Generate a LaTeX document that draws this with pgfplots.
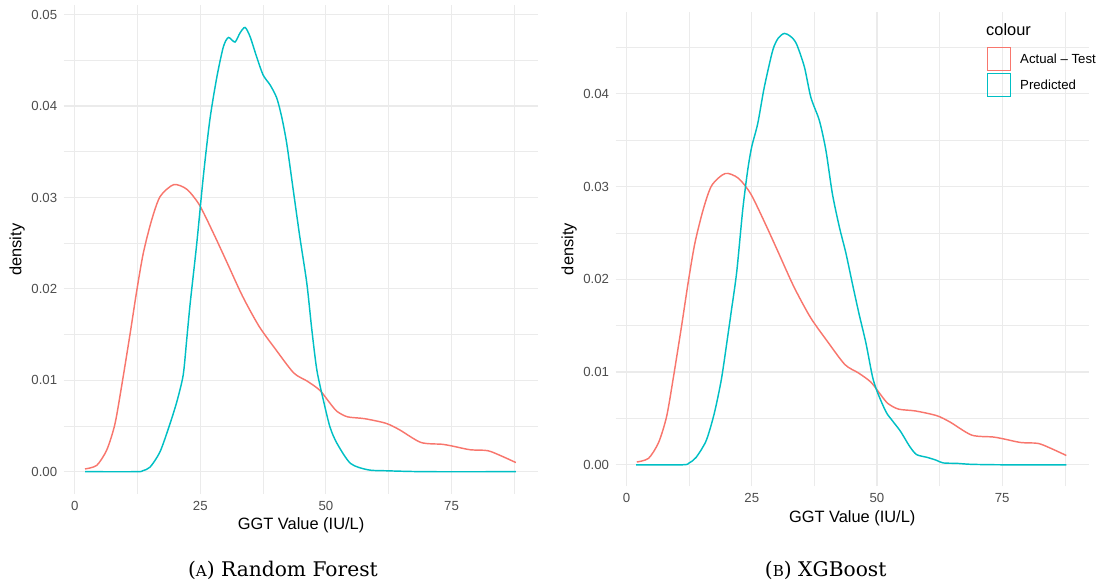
\documentclass[border=0pt]{standalone}
\usepackage{fontspec}
\usepackage{pgfplots}
\pgfplotsset{compat=1.18}
\newfontfamily\lsans{Liberation Sans}
\newfontfamily\capserif{DejaVu Serif}
\definecolor{actcol}{HTML}{F8766D}
\definecolor{predcol}{HTML}{00BFC4}
\definecolor{gridcol}{HTML}{EBEBEB}
\definecolor{tickcol}{HTML}{4D4D4D}

% shared look of the two density panels (ggplot theme_minimal)
\pgfplotsset{
  ggdens/.style={
    scale only axis, anchor=south west,
    axis line style={draw=none}, tick style={draw=none},
    grid=both,
    major grid style={gridcol, line width=1.1pt},
    minor grid style={gridcol, line width=0.6pt},
    xmin=-2.2, xmax=92.3,
    xtick={0,25,50,75}, minor xtick={12.5,37.5,62.5,87.5},
    /pgf/number format/assume math mode=true,
    scaled y ticks=false,
    ticklabel style={font=\lsans\fontsize{13.2}{15}\selectfont, text=tickcol},
    yticklabel style={/pgf/number format/fixed, /pgf/number format/fixed zerofill,
      /pgf/number format/precision=2},
    xticklabel style={yshift=-3.5pt},
    yticklabel style={xshift=-3pt},
    label style={font=\lsans\fontsize{16.4}{19}\selectfont, text=black},
    xlabel={GGT Value (IU/L)}, ylabel={density},
    xlabel style={at={(axis description cs:0.5,0)}, anchor=base, yshift=-35.6pt},
    ylabel style={at={(axis description cs:-0.098,0.5)}, anchor=center},
    every axis plot/.append style={line width=1.45pt, smooth, tension=0.45},
  }
}

% observed GGT density (same test set in both panels)
\pgfplotstableread{
x y
2.05 0.0003
4.4 0.0007
6.4 0.0024
8.0 0.0052
9.35 0.0094
11.0 0.0150
12.35 0.0198
13.65 0.0239
15.3 0.0275
17.0 0.0301
19.7 0.0314
22.3 0.0309
24.8 0.0292
27.6 0.0261
30.3 0.0229
33.4 0.0192
36.7 0.0159
40.1 0.0133
43.6 0.0108
46.3 0.0099
48.8 0.0089
50.8 0.0075
52.2 0.0066
54.3 0.0060
57.7 0.0058
61.9 0.0053
64.6 0.0046
68.9 0.0032
73.1 0.0030
75.2 0.0028
78.7 0.0024
82.2 0.0023
85.0 0.0017
87.8 0.0010
}\actual

\pgfplotstableread{
x y
2.05 0
12.3 0
13.5 0.0001
15.0 0.0005
17.0 0.0022
19.0 0.0053
20.4 0.0078
21.6 0.0106
22.3 0.0145
23.0 0.0185
24.3 0.0250
25.6 0.0323
26.9 0.0385
28.3 0.0432
29.6 0.0465
30.6 0.0475
31.9 0.0470
32.9 0.0480
33.9 0.0486
34.9 0.0476
36.2 0.0454
37.5 0.0434
38.9 0.0423
40.2 0.0409
41.2 0.0388
42.2 0.0359
43.5 0.0308
44.8 0.0257
46.2 0.0206
47.2 0.0155
48.2 0.0111
49.5 0.0078
50.8 0.0049
52.2 0.0031
54.9 0.0009
58.4 0.0002
62.0 0.0001
70.0 0
87.8 0
}\predrf

\pgfplotstableread{
x y
1.9 0
11.2 0
12.5 0.0002
13.9 0.0008
15.9 0.0026
17.5 0.0055
18.9 0.0091
19.9 0.0127
20.9 0.0165
22.0 0.0208
23.2 0.0275
24.2 0.0318
25.0 0.0343
26.2 0.0368
27.5 0.0407
29.2 0.0447
30.3 0.0460
31.5 0.0465
32.7 0.0462
33.9 0.0454
35.5 0.0429
36.8 0.0396
38.5 0.0371
39.8 0.0339
41.1 0.0292
42.5 0.0256
43.8 0.0228
45.1 0.0195
46.4 0.0163
47.8 0.0131
49.1 0.0095
50.1 0.0078
51.8 0.0057
53.0 0.0048
54.7 0.0036
56.5 0.0020
57.9 0.0011
60.0 0.0008
61.8 0.0005
63.2 0.0002
66.0 0.00015
68.8 0.00005
75.0 0
87.8 0
}\predxgb

\begin{document}
\begin{tikzpicture}
\path[use as bounding box] (0,0) rectangle (1101pt,-585pt);

% (A) Random Forest
\begin{axis}[ggdens,
  at={(63.65pt,-493.9pt)}, width=474.8pt, height=488.4pt,
  ymin=-0.00243, ymax=0.051,
  ytick={0,0.01,0.02,0.03,0.04,0.05},
  minor ytick={0.005,0.015,0.025,0.035,0.045}]
\addplot[actcol] table {\actual};
\addplot[predcol] table {\predrf};
\end{axis}

% (B) XGBoost
\begin{axis}[ggdens,
  at={(615.5pt,-486.4pt)}, width=473.4pt, height=474.6pt,
  ymin=-0.00233, ymax=0.04883,
  ytick={0,0.01,0.02,0.03,0.04},
  minor ytick={0.005,0.015,0.025,0.035,0.045}]
\addplot[actcol] table {\actual};
\addplot[predcol] table {\predxgb};
\end{axis}

% legend of panel B
\node[anchor=base west, inner sep=0, font=\lsans\fontsize{16.4}{19}\selectfont]
  at (986pt,-36pt) {colour};
\draw[actcol, line width=1.3pt] (987.2pt,-47.2pt) rectangle (1010.8pt,-70.8pt);
\draw[predcol, line width=1.3pt] (987.2pt,-73.2pt) rectangle (1010.8pt,-96.8pt);
\node[anchor=west, inner sep=0, font=\lsans\fontsize{13.2}{15}\selectfont]
  at (1020pt,-59pt) {Actual – Test};
\node[anchor=west, inner sep=0, font=\lsans\fontsize{13.2}{15}\selectfont]
  at (1020pt,-85pt) {Predicted};

% sub-captions
\node[anchor=base, inner sep=0, font=\capserif\fontsize{20.2}{24}\selectfont]
  at (282.9pt,-576pt) {({\fontsize{15.1}{18}\selectfont A}) Random Forest};
\node[anchor=base, inner sep=0, font=\capserif\fontsize{20.2}{24}\selectfont]
  at (825.7pt,-576pt) {({\fontsize{15.1}{18}\selectfont B}) XGBoost};
\end{tikzpicture}
\end{document}
